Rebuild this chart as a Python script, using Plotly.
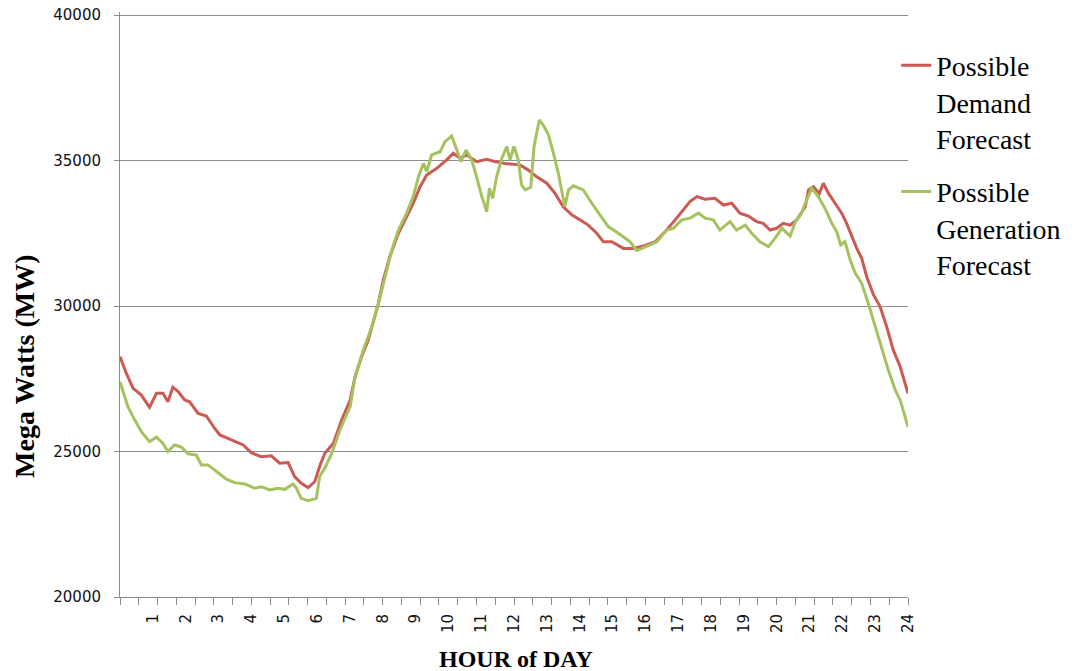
import plotly.graph_objects as go

# Possible Demand Forecast (hour of day, MW)
demand_hours = [0.0, 0.19, 0.40, 0.65, 0.90, 1.11, 1.31, 1.46, 1.61, 1.77, 1.97, 2.12, 2.38, 2.63,
                2.88, 3.04, 3.29, 3.54, 3.75, 4.00, 4.30, 4.61, 4.86, 5.12, 5.32, 5.52, 5.73, 5.93,
                6.10, 6.24, 6.50, 6.75, 7.01, 7.16, 7.36, 7.56, 7.72, 7.87, 8.02, 8.22, 8.48, 8.73,
                8.93, 9.14, 9.34, 9.65, 9.95, 10.15, 10.36, 10.56, 10.86, 11.17, 11.42, 11.73, 11.98,
                12.18, 12.44, 12.69, 13.00, 13.25, 13.50, 13.76, 14.01, 14.26, 14.52, 14.72, 14.98,
                15.33, 15.64, 15.94, 16.30, 16.60, 16.91, 17.16, 17.36, 17.57, 17.82, 18.12, 18.38,
                18.63, 18.88, 19.14, 19.39, 19.59, 19.80, 20.00, 20.20, 20.41, 20.61, 20.87, 20.97,
                21.12, 21.30, 21.42, 21.58, 21.78, 21.98, 22.13, 22.29, 22.44, 22.59, 22.74, 22.95,
                23.15, 23.35, 23.55, 23.76, 24.0]
demand_mw = [28260, 27690, 27170, 26940, 26520, 27000, 27000, 26710, 27210, 27060, 26770, 26710, 26310, 26220,
             25800, 25570, 25455, 25340, 25225, 24960, 24820, 24850, 24600, 24620, 24140, 23910, 23760, 23960,
             24550, 24940, 25280, 26080, 26770, 27570, 28260, 28830, 29520, 30090, 30900, 31700, 32500, 33070,
             33530, 34100, 34500, 34730, 35020, 35250, 35080, 35190, 34960, 35040, 34960, 34900, 34880,
             34850, 34670, 34440, 34220, 33870, 33410, 33130, 32960, 32780, 32500, 32210, 32210,
             31980, 31980, 32060, 32210, 32550, 32960, 33300, 33590, 33760, 33670, 33700, 33470,
             33530, 33190, 33090, 32900, 32840, 32610, 32670, 32840, 32780, 32960, 33410, 33990,
             34100, 33870, 34220, 33870, 33530, 33190, 32840, 32380, 31980, 31640, 31010, 30380,
             29980, 29290, 28490, 27920, 27000]

# Possible Generation Forecast (hour of day, MW)
generation_hours = [0.0, 0.24, 0.45, 0.65, 0.90, 1.11, 1.31, 1.46, 1.66, 1.87, 2.07, 2.32, 2.48, 2.68,
                    2.99, 3.24, 3.49, 3.80, 4.10, 4.30, 4.56, 4.81, 5.02, 5.27, 5.37, 5.52, 5.73, 5.98,
                    6.08, 6.24, 6.45, 6.70, 7.01, 7.16, 7.41, 7.67, 7.87, 8.07, 8.28, 8.48, 8.73, 8.93,
                    9.09, 9.24, 9.34, 9.49, 9.75, 9.90, 10.10, 10.26, 10.38, 10.54, 10.71, 10.86, 11.02,
                    11.17, 11.25, 11.35, 11.47, 11.63, 11.78, 11.88, 12.00, 12.13, 12.23, 12.34, 12.51,
                    12.61, 12.77, 12.89, 13.05, 13.20, 13.35, 13.55, 13.66, 13.81, 14.11, 14.37, 14.62,
                    14.87, 15.18, 15.53, 15.74, 16.04, 16.35, 16.65, 16.85, 17.11, 17.36, 17.62, 17.82,
                    18.07, 18.27, 18.58, 18.78, 19.04, 19.24, 19.49, 19.75, 19.95, 20.16, 20.41, 20.56,
                    20.76, 20.87, 21.07, 21.27, 21.47, 21.68, 21.83, 21.95, 22.08, 22.24, 22.39, 22.59,
                    22.79, 23.00, 23.20, 23.40, 23.61, 23.76, 23.91, 24.0]
generation_mw = [27400, 26540, 26080, 25680, 25340, 25490, 25280, 25000, 25225, 25150, 24920, 24880, 24540, 24540,
                 24270, 24050, 23930, 23885, 23740, 23790, 23680, 23740, 23700, 23885, 23740, 23390, 23310, 23390,
                 24140, 24430, 24940, 25740, 26540, 27570, 28490, 29290, 30090, 31010, 31930, 32610, 33190, 33760,
                 34440, 34900, 34620, 35190, 35300, 35650, 35840, 35360, 34960, 35360, 35020, 34440, 33760,
                 33240, 34050, 33700, 34440, 35080, 35480, 35020, 35480, 35020, 34160, 33990, 34080,
                 35480, 36390, 36220, 35880, 35250, 34560, 33410, 33990, 34130, 33990, 33530, 33130,
                 32730, 32500, 32210, 31900, 32060, 32210, 32610, 32670, 32960, 33020, 33190, 33020,
                 32960, 32610, 32900, 32610, 32780, 32500, 32210, 32040, 32330, 32670, 32400, 32870,
                 33190, 33530, 34050, 33760, 33360, 32840, 32550, 32100, 32210, 31580, 31130, 30780,
                 30090, 29290, 28600, 27800, 27120, 26770, 26200, 25850]

hour_ticks = list(range(1, 25))
hour_labels = [str(h) for h in hour_ticks]
y_ticks = [20000, 25000, 30000, 35000, 40000]
y_labels = [str(v) for v in y_ticks]

fig = go.Figure()
fig.add_trace(go.Scatter(x=demand_hours, y=demand_mw, mode="lines",
                         name="Possible<br>Demand<br>Forecast", legendgroup="demand",
                         line=dict(color="#CB5A52", width=3)))
fig.add_trace(go.Scatter(x=generation_hours, y=generation_mw, mode="lines",
                         name="Possible<br>Generation<br>Forecast", legendgroup="generation",
                         line=dict(color="#A5C25E", width=3)))

grey = "#8C8C8C"
fig.update_layout(
    width=1076, height=671,
    margin=dict(l=120, r=168, t=12, b=74, autoexpand=False),
    paper_bgcolor="white", plot_bgcolor="white",
    showlegend=True,
    legend=dict(x=0.985, xanchor="left", y=0.951, yanchor="top",
                font=dict(family="Liberation Serif", size=28, color="black"),
                valign="top", itemwidth=30, tracegroupgap=14,
                bgcolor="rgba(0,0,0,0)"),
    xaxis=dict(range=[0, 24], tickmode="array", tickvals=hour_ticks, ticktext=hour_labels,
               automargin=False,
               tickangle=-90, ticks="outside", ticklen=10, tickcolor="rgba(0,0,0,0)",
               tickfont=dict(family="DejaVu Sans", size=15, color="#111"),
               showline=True, linecolor=grey, linewidth=1, showgrid=False, zeroline=False,
               minor=dict(ticks="outside", ticklen=7, tickcolor=grey, dtick=24/42, tick0=0, showgrid=False)),
    yaxis=dict(range=[20000, 40103.1], tickmode="array", tickvals=y_ticks, ticktext=y_labels,
               automargin=False, ticklabeloverflow="allow",
               ticks="outside", ticklen=5, tickcolor=grey, ticklabelstandoff=10,
               tickfont=dict(family="DejaVu Sans", size=15, color="#111"),
               showline=True, linecolor=grey, linewidth=1,
               showgrid=True, gridcolor=grey, gridwidth=1, zeroline=False),
    annotations=[
        dict(text="<b>Mega Watts (MW)</b>", textangle=-90, showarrow=False,
             xref="paper", yref="paper", x=-0.1206, y=0.395,
             xanchor="center", yanchor="middle",
             font=dict(family="Liberation Serif", size=28, color="black")),
        dict(text="<b>HOUR of DAY</b>", showarrow=False,
             xref="paper", yref="paper", x=0.5025, y=-0.106,
             xanchor="center", yanchor="middle",
             font=dict(family="Liberation Serif", size=24, color="black")),
    ],
)

fig.write_html("out.html", config={"displayModeBar": False},
               post_script="document.body.style.margin='0';")
